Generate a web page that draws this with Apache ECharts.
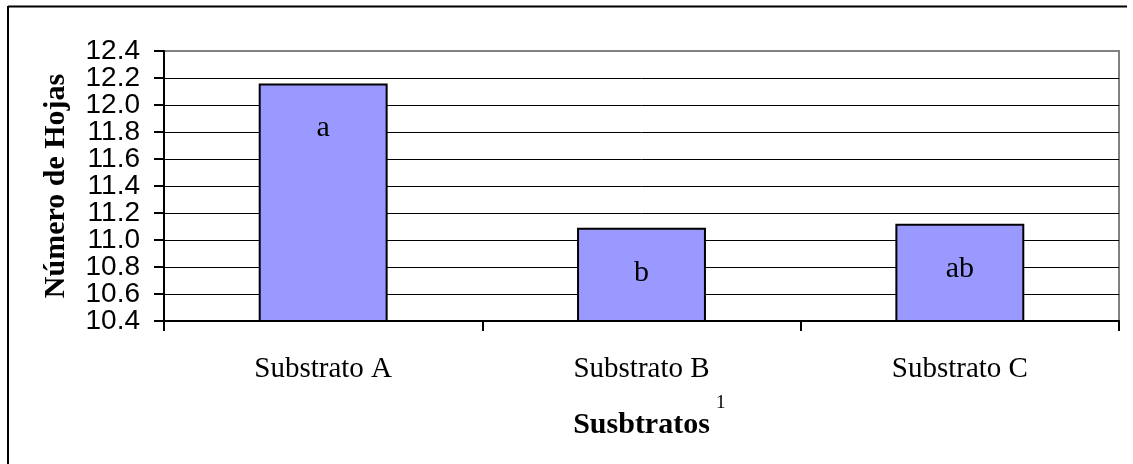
<!DOCTYPE html>
<html>
<head>
<meta charset="utf-8">
<script src="https://cdn.jsdelivr.net/npm/echarts@6/dist/echarts.min.js"></script>
<style>html,body{margin:0;padding:0;background:#fff;}#c{width:1133px;height:464px;}</style>
</head>
<body>
<div id="c"></div>
<script>
const categories = ['Substrato A', 'Substrato B', 'Substrato C'];
const values = [12.16, 11.09, 11.12];
const letters = ['a', 'b', 'ab'];
const yTicks = { min: 10.4, max: 12.4, interval: 0.2 };

const tickIndex = v => Math.round((v - yTicks.min) / yTicks.interval);
const yLabelStyle = { show: true, showMinLabel: true, showMaxLabel: true, margin: 24, color: '#000', fontFamily: 'Liberation Sans', fontSize: 28 };

const chart = echarts.init(document.getElementById('c'), null, { renderer: 'canvas' });
chart.setOption({
  backgroundColor: '#ffffff',
  animation: false,
  grid: { left: 164, right: 14, top: 51, bottom: 143, show: true, borderColor: '#808080', borderWidth: 2, backgroundColor: 'transparent' },
  xAxis: {
    type: 'category',
    data: categories,
    boundaryGap: true,
    axisLine: { show: true, lineStyle: { color: '#000', width: 2 } },
    axisTick: { show: true, inside: false, length: 10, lineStyle: { color: '#000', width: 2 }, alignWithLabel: false },
    axisLabel: { margin: 34, color: '#000', fontFamily: 'Liberation Serif', fontSize: 29 },
    name: 'Susbtratos',
    nameLocation: 'middle',
    nameGap: 89,
    nameTextStyle: { color: '#000', fontFamily: 'Liberation Serif', fontWeight: 'bold', fontSize: 30 }
  },
  yAxis: [{
    type: 'value',
    position: 'left',
    min: yTicks.min, max: yTicks.max, interval: yTicks.interval,
    axisLine: { show: true, lineStyle: { color: '#000', width: 2 } },
    axisTick: { show: true, inside: false, length: 10, lineStyle: { color: '#000', width: 2 } },
    axisLabel: Object.assign({}, yLabelStyle, { formatter: v => tickIndex(v) % 2 === 0 ? v.toFixed(1) : '' }),
    splitLine: { show: true, showMaxLine: false, lineStyle: { color: '#000', width: 1 } },
    name: 'Número de Hojas',
    nameLocation: 'middle',
    nameGap: 93,
    nameRotate: 90,
    nameTextStyle: { color: '#000', fontFamily: 'Liberation Serif', fontWeight: 'bold', fontSize: 30 }
  }, {
    type: 'value',
    position: 'left',
    offset: 0,
    min: yTicks.min, max: yTicks.max, interval: yTicks.interval,
    axisLine: { show: false },
    axisTick: { show: false },
    splitLine: { show: false },
    axisLabel: Object.assign({}, yLabelStyle, { formatter: v => tickIndex(v) % 2 === 1 ? v.toFixed(1) : '' })
  }],
  series: [{
    type: 'bar',
    yAxisIndex: 0,
    data: values.map((v, i) => ({ value: v, label: { formatter: letters[i] } })),
    barWidth: '40.5%',
    itemStyle: { color: '#9999FF', borderColor: '#000', borderWidth: 2 },
    label: { show: true, position: 'insideTop', distance: 30, color: '#000', fontFamily: 'Liberation Serif', fontSize: 30 }
  }],
  graphic: [
    { type: 'line', shape: { x1: 8, y1: 6.5, x2: 1127, y2: 6.5 }, style: { stroke: '#000', lineWidth: 2 }, z: 100 },
    { type: 'line', shape: { x1: 8, y1: 6, x2: 8, y2: 464 }, style: { stroke: '#000', lineWidth: 2 }, z: 100 },
    { type: 'text', x: 716, y: 403, style: { text: '1', fontFamily: 'Liberation Serif', fontSize: 19, fill: '#000', verticalAlign: 'middle', align: 'left' }, z: 100 }
  ]
});
</script>
</body>
</html>
